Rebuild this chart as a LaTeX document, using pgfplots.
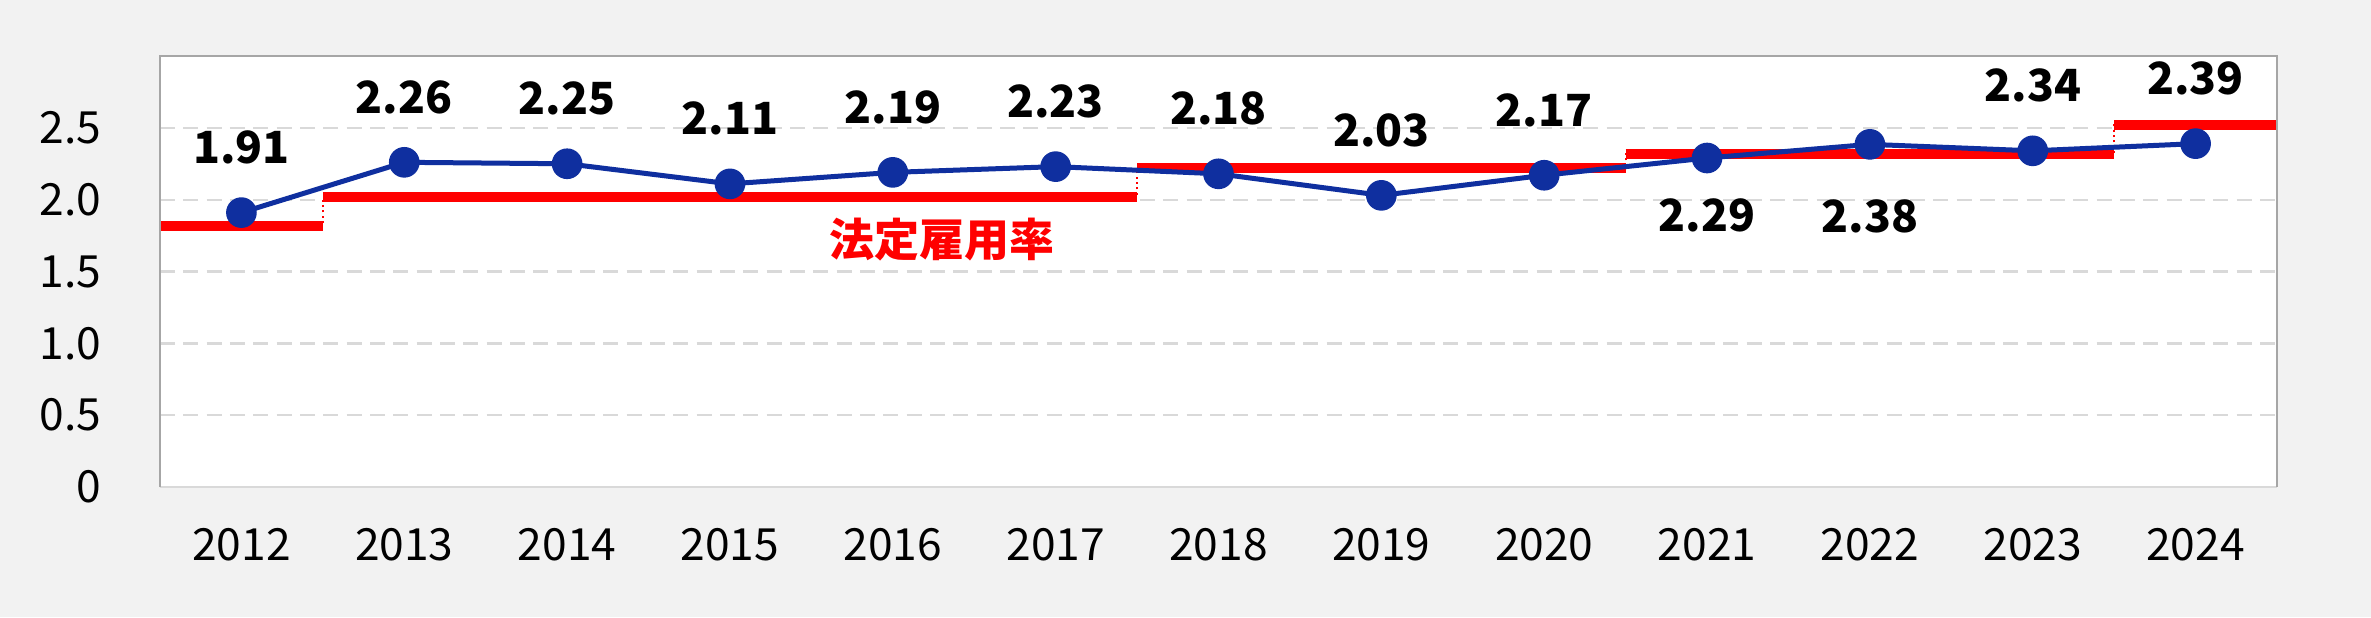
\documentclass[border=0pt]{standalone}
\usepackage{fontspec}
\setmainfont{Noto Sans CJK JP}
\usepackage{pgfplots}
\pgfplotsset{compat=1.18}
\definecolor{bg}{HTML}{F2F2F2}
\definecolor{myblue}{HTML}{0F2F9F}
\definecolor{gridc}{HTML}{D9D9D9}
\definecolor{bordc}{HTML}{A6A6A6}
\definecolor{myred}{HTML}{FF0000}
\begin{document}
\begin{tikzpicture}
\fill[bg] (-48pt,-39pt) rectangle (663.3pt,146.1pt);
\begin{axis}[at={(0,0)}, anchor=south west, scale only axis,
  width=635.1pt, height=129.3pt,
  xmin=-0.5, xmax=12.5, ymin=0, ymax=3,
  xtick={0,...,12},
  xticklabels={2012,2013,2014,2015,2016,2017,2018,2019,2020,2021,2022,2023,2024},
  ytick={0,0.5,1,1.5,2,2.5},
  yticklabels={0,0.5,1.0,1.5,2.0,2.5},
  major tick length=0pt,
  ymajorgrids,
  grid style={gridc, dash pattern=on 4.5pt off 2.5pt, line width=0.7pt},
  axis line style={draw=none},
  axis background/.style={fill=white},
  tick label style={font=\fontsize{13.3}{15}\selectfont, text=black},
  xticklabel style={anchor=center, yshift=-17.4pt},
  yticklabel style={anchor=east, inner sep=0pt, xshift=-17.4pt},
  clip=false,
]
% legal employment rate: dotted step connectors
\addplot[myred, line width=0.6pt, densely dotted, const plot] coordinates {
  (-0.5,1.82) (0.5,2.02) (5.5,2.22) (8.5,2.32) (11.5,2.52) (12.5,2.52)};
% legal employment rate: thick segments
\addplot[myred, line width=3pt] coordinates {(-0.5,1.82) (0.5,1.82)};
\addplot[myred, line width=3pt] coordinates {(0.5,2.02) (5.5,2.02)};
\addplot[myred, line width=3pt] coordinates {(5.5,2.22) (8.5,2.22)};
\addplot[myred, line width=3pt] coordinates {(8.5,2.32) (11.5,2.32)};
\addplot[myred, line width=3pt] coordinates {(11.5,2.52) (12.5,2.52)};
% actual employment rate
\addplot[myblue, line width=1.5pt, mark=*, mark size=4.35pt,
  mark options={fill=myblue, draw=myblue, line width=0.5pt}] coordinates {
  (0,1.91) (1,2.26) (2,2.25) (3,2.11) (4,2.19) (5,2.23) (6,2.18)
  (7,2.03) (8,2.17) (9,2.29) (10,2.385) (11,2.34) (12,2.39)};
% border
\draw[gridc, line width=0.8pt] (rel axis cs:0,0) -- (rel axis cs:1,0);
\draw[bordc, line width=0.8pt] (rel axis cs:0,0) -- (rel axis cs:0,1) -- (rel axis cs:1,1) -- (rel axis cs:1,0);
% data labels
\begin{scope}[every node/.style={font=\fontsize{13.3}{15}\selectfont\bfseries, text=black}]
\node[yshift=19.5pt] at (axis cs:0,1.91) {1.91};
\node[yshift=19.5pt] at (axis cs:1,2.26) {2.26};
\node[yshift=19.5pt] at (axis cs:2,2.25) {2.25};
\node[yshift=19.5pt] at (axis cs:3,2.11) {2.11};
\node[yshift=19.5pt] at (axis cs:4,2.19) {2.19};
\node[yshift=19.5pt] at (axis cs:5,2.23) {2.23};
\node[yshift=19.5pt] at (axis cs:6,2.18) {2.18};
\node[yshift=19.5pt] at (axis cs:7,2.03) {2.03};
\node[yshift=19.5pt] at (axis cs:8,2.17) {2.17};
\node[yshift=-17.1pt] at (axis cs:9,2.29) {2.29};
\node[yshift=-21.6pt] at (axis cs:10,2.385) {2.38};
\node[yshift=19.5pt] at (axis cs:11,2.34) {2.34};
\node[yshift=19.5pt] at (axis cs:12,2.39) {2.39};
\end{scope}
\node[font=\fontsize{13.5}{15}\selectfont\bfseries, text=myred] at (axis cs:4.3,1.72) {法定雇用率};
\end{axis}
\end{tikzpicture}
\end{document}
